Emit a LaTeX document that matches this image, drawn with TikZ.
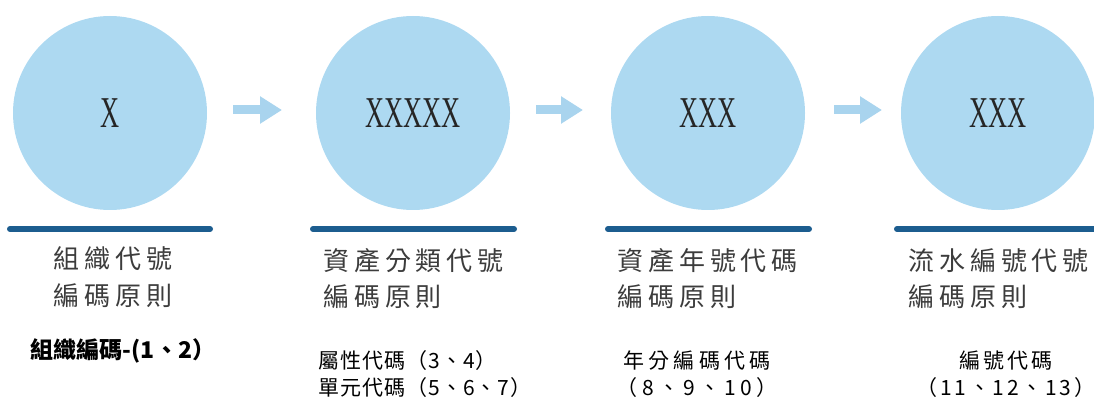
\documentclass[tikz,border=0pt]{standalone}
\usepackage{graphicx}
\usepackage{fontspec}
\setmainfont{Liberation Serif}
\newfontfamily\cjk{Noto Sans CJK TC}
\newfontfamily\cjkwide[LetterSpace=19]{Noto Sans CJK TC}
\newfontfamily\cjksub[LetterSpace=5]{Noto Sans CJK TC}
\newfontfamily\cjksubmid[LetterSpace=13]{Noto Sans CJK TC}
\newfontfamily\cjksubwide[LetterSpace=20]{Noto Sans CJK TC}
\usetikzlibrary{arrows.meta}

\definecolor{circleblue}{HTML}{ADD9F1}
\definecolor{arrowblue}{HTML}{A9D4EE}
\definecolor{barblue}{HTML}{1C5D8F}
\definecolor{titlegray}{HTML}{3C3C3C}

\newcommand{\codex}[1]{\scalebox{0.6}[1]{#1}}

\tikzset{
    codecircle/.style={circle, fill=circleblue, minimum size=194pt, inner sep=0pt,
        text=black!85, font=\fontsize{44}{44}\selectfont},
    codebar/.style={barblue, line width=6pt, line cap=round},
    flowarrow/.style={arrowblue, line width=9pt, -{Triangle[width=26pt,length=22pt]}},
    titletext/.style={inner sep=0pt, align=left, text=titlegray,
        font=\cjkwide\fontsize{26}{36}\selectfont},
    subtext/.style={inner sep=0pt, font=\cjksub\fontsize{21}{27}\selectfont}
}

\begin{document}
\begin{tikzpicture}[x=1pt, y=-1pt]
        \useasboundingbox (0,0) rectangle (1094,403);

        \node[codecircle] (c1) at (110,113) {\codex{X}};
        \node[codecircle] (c2) at (413,113) {\codex{XXXXX}};
        \node[codecircle] (c3) at (708,113) {\codex{XXX}};
        \node[codecircle] (c4) at (998,113) {\codex{XXX}};

        \coordinate (a1s) at (233,110);
        \coordinate (a1e) at (282,110);
        \coordinate (a2s) at (536,110);
        \coordinate (a2e) at (583,110);
        \coordinate (a3s) at (834,110);
        \coordinate (a3e) at (882,110);
        \draw[flowarrow] (a1s) -- (a1e);
        \draw[flowarrow] (a2s) -- (a2e);
        \draw[flowarrow] (a3s) -- (a3e);

        \draw[codebar] (10,229) -- (210,229);
        \draw[codebar] (313,229) -- (514,229);
        \draw[codebar] (608,229) -- (809,229);
        \draw[codebar] (897,229) -- (1100,229);

        % base anchor sits on the last line
        \node[titletext, anchor=base] (t1) at (113,305) {組織代號\\編碼原則};
        \node[titletext, anchor=base west] (t2) at (323,306) {資產分類代號\\編碼原則};
        \node[titletext, anchor=base west] (t3) at (617,306) {資產年號代碼\\編碼原則};
        \node[titletext, anchor=base west] (t4) at (908,306) {流水編號代號\\編碼原則};

        \node[subtext, font=\cjk\bfseries\fontsize{23}{27}\selectfont, anchor=base] (s1) at (123,358) {組織編碼-(1、2）};
        \node[subtext, align=left, anchor=base west] (s2) at (318,395) {屬性代碼（3、4）\\單元代碼（5、6、7）};
        \node[subtext, font=\cjksubwide\fontsize{21}{27}\selectfont, align=center, anchor=base] (s3) at (697,395) {年分編碼代碼\\（8、9、10）};
        \node[subtext, font=\cjksubmid\fontsize{21}{27}\selectfont, align=center, anchor=base] (s4) at (1006,395) {編號代碼\\（11、12、13）};
\end{tikzpicture}
\end{document}
